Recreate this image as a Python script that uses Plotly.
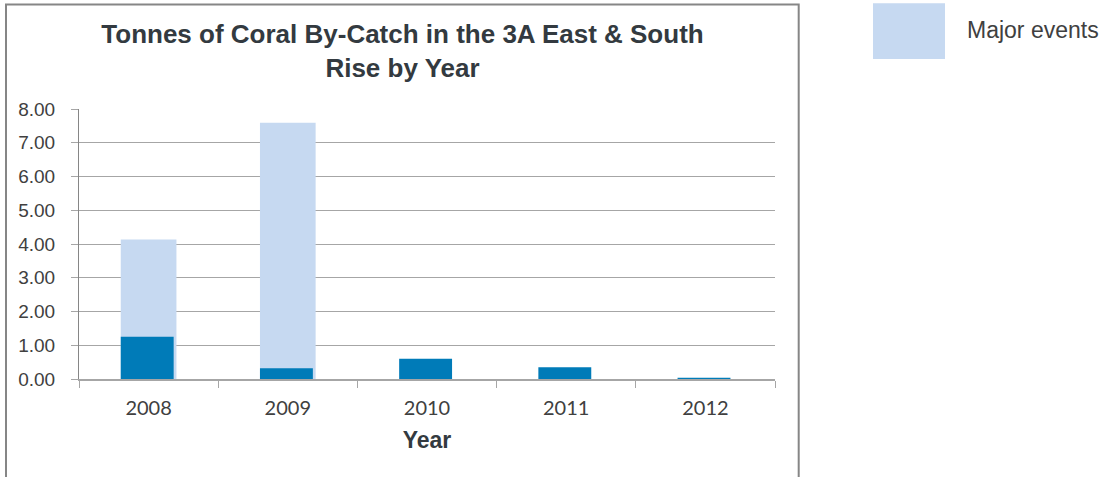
import plotly.graph_objects as go

years = ["2008", "2009", "2010", "2011", "2012"]
other_catch = [1.25, 0.32, 0.60, 0.35, 0.04]
major_events = [2.88, 7.27, 0.0, 0.0, 0.0]
y_ticks = [0, 1, 2, 3, 4, 5, 6, 7, 8]

title_text = "Tonnes of Coral By-Catch in the 3A East & South<br>Rise by Year"
legend_label = "Major events"

DARK = "#007bb8"
LIGHT = "#c6d9f1"
TXT = "#404040"

totals = [o + m for o, m in zip(other_catch, major_events)]
light_x = [y for y, m in zip(years, major_events) if m > 0]
light_y = [t for t, m in zip(totals, major_events) if m > 0]

W, H = 1104, 477
L, R, T, B = 79, 329, 109, 97.5
PW, PH = W - L - R, H - T - B


def px_x(px):
    return (px - L) / PW


def px_y(py):
    return (H - B - py) / PH


fig = go.Figure()
fig.add_trace(go.Bar(x=light_x, y=light_y, name=legend_label, marker=dict(color=LIGHT, line=dict(width=0)),
                     width=0.40, offset=-0.20, showlegend=False, hoverinfo="skip"))
fig.add_trace(go.Bar(x=years, y=other_catch, name="Other", marker=dict(color=DARK, line=dict(width=0)),
                     width=0.38, offset=-0.20, showlegend=False, hoverinfo="skip"))

fig.update_layout(
    width=W, height=H,
    margin=dict(l=L, r=R, t=T, b=B, autoexpand=False),
    paper_bgcolor="white", plot_bgcolor="white",
    barmode="overlay",
    showlegend=False,
    title=dict(text=title_text, x=px_x(402.5), xref="paper", xanchor="center",
               y=1 - 43 / H, yref="container", yanchor="middle",
               font=dict(family="Liberation Sans, Arial", size=26, color="#333a40", weight="bold")),
    xaxis=dict(type="category", categoryorder="array", categoryarray=years,
               range=[-0.5, 4.5],
               showline=True, linecolor="#a6a6a6", linewidth=2,
               ticks="outside", tickson="boundaries", ticklen=7, tickcolor="#a6a6a6", tickwidth=1,
               tickfont=dict(family="Lato", size=20, color=TXT),
               ticklabelstandoff=10,
               showgrid=False, zeroline=False,
               title=dict(text="<b>Year</b>", standoff=14,
                          font=dict(family="Liberation Sans, Arial", size=23, color="#333a40"))),
    yaxis=dict(range=[0, 8], tickvals=y_ticks, tickformat=".2f",
               showline=True, linecolor="#868686", linewidth=1,
               ticks="outside", ticklen=7, tickcolor="#a6a6a6",
               showgrid=True, gridcolor="#a6a6a6", gridwidth=1,
               zeroline=False,
               tickfont=dict(family="Liberation Sans, Arial", size=19, color=TXT),
               ticklabelstandoff=12),
    shapes=[
        dict(type="rect", xref="paper", yref="paper",
             x0=px_x(6), x1=px_x(798.7), y0=px_y(490), y1=px_y(4.3),
             line=dict(color="#868686", width=2), fillcolor="rgba(0,0,0,0)", layer="below"),
        dict(type="rect", xref="paper", yref="paper",
             x0=px_x(873), x1=px_x(945), y0=px_y(59), y1=px_y(3),
             line=dict(width=0), fillcolor=LIGHT),
    ],
    annotations=[
        dict(text=legend_label, xref="paper", yref="paper", x=px_x(965), y=px_y(30),
             xanchor="left", yanchor="middle", showarrow=False,
             font=dict(family="Liberation Sans, Arial", size=23, color=TXT)),
    ],
)

fig.write_html("out.html", config={"displayModeBar": False, "staticPlot": True},
               post_script="document.body.style.margin='0';document.body.style.overflow='hidden';")
